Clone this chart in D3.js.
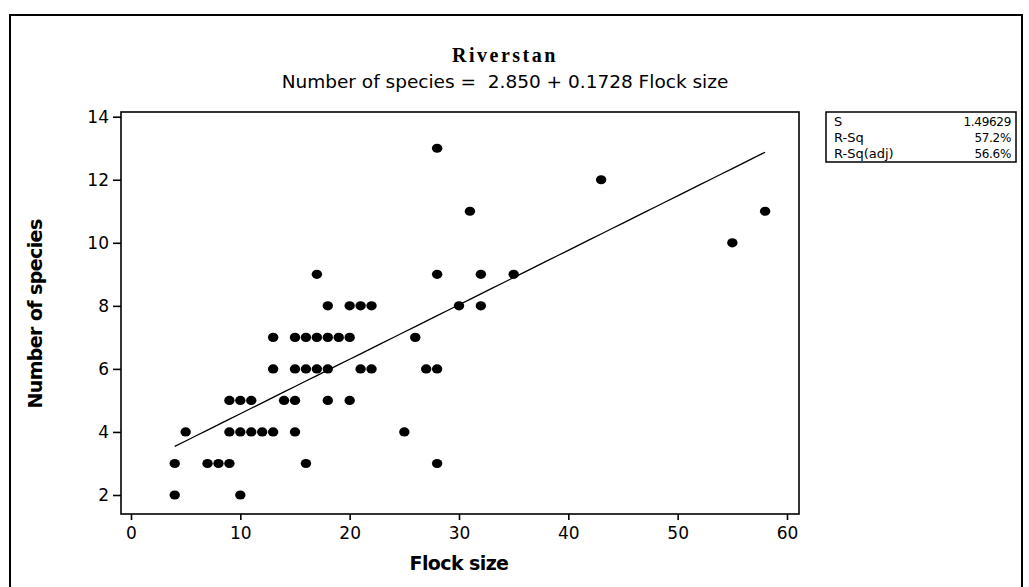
<!DOCTYPE html>
<html>
<head>
<meta charset="utf-8">
<script src="https://cdn.jsdelivr.net/npm/d3@7"></script>
<style>
  html, body { margin: 0; padding: 0; background: #fff; }
  svg { display: block; }
</style>
</head>
<body>
<svg id="chart" width="1029" height="587"></svg>
<script>
// ---- data ----
const flockSize = [4,4,5,7,8,9,10, 9,10,11,12,13,15,25, 9,10,11,14,15,18,20,
                   13,15,16,17,18,21,22,27,28, 13,15,16,17,18,19,20,26,
                   18,20,21,22,30,32, 17,28,32,35, 31,28,43,55,58, 28,16];
const numSpecies = [2,3,4,3,3,3,2, 4,4,4,4,4,4,4, 5,5,5,5,5,5,5,
                    6,6,6,6,6,6,6,6,6, 7,7,7,7,7,7,7,7,
                    8,8,8,8,8,8, 9,9,9,9, 11,13,12,10,11, 3,3];
const fitIntercept = 2.850;
const fitSlope = 0.1728;
const fitRange = [4, 58];
const xTicks = [0, 10, 20, 30, 40, 50, 60];
const yTicks = [2, 4, 6, 8, 10, 12, 14];
const statLabels = ["S", "R-Sq", "R-Sq(adj)"];
const statValues = ["1.49629", "57.2%", "56.6%"];
const titleText = "Riverstan";
const subtitleText = "Number of species =  2.850 + 0.1728 Flock size";
const xLabel = "Flock size";
const yLabel = "Number of species";

// ---- layout ----
const svg = d3.select("#chart");
const frame = {left: 121, right: 799, top: 112, bottom: 514};
const x = d3.scaleLinear().domain([0, 60]).range([131, 787]);
const y = d3.scaleLinear().domain([2, 14]).range([495, 116.7]);

// outer border
svg.append("path")
  .attr("d", "M10,600 L10,15 L1022,15 L1022,600")
  .attr("fill", "none").attr("stroke", "#000").attr("stroke-width", 2);

// data frame
svg.append("rect")
  .attr("x", frame.left).attr("y", frame.top)
  .attr("width", frame.right - frame.left).attr("height", frame.bottom - frame.top)
  .attr("fill", "none").attr("stroke", "#000").attr("stroke-width", 1.6);

// axes
const xAxis = svg.append("g")
  .attr("transform", `translate(0,${frame.bottom})`)
  .call(d3.axisBottom(x).tickValues(xTicks).tickSize(6).tickPadding(7));
const yAxis = svg.append("g")
  .attr("transform", `translate(${frame.left},0)`)
  .call(d3.axisLeft(y).tickValues(yTicks).tickSize(8).tickPadding(4));
[xAxis, yAxis].forEach(g => {
  g.select(".domain").remove();
  g.selectAll(".tick line").attr("stroke", "#000").attr("stroke-width", 1.6);
  g.selectAll(".tick text")
    .attr("fill", "#000")
    .style("font-family", "'DejaVu Sans', sans-serif")
    .style("font-size", "17px");
});

// fitted line
const fitX = d3.range(fitRange[0], fitRange[1] + 0.001, 1);
svg.append("path")
  .datum(fitX)
  .attr("fill", "none").attr("stroke", "#000").attr("stroke-width", 1.3)
  .attr("d", d3.line().x(d => x(d)).y(d => y(fitIntercept + fitSlope * d)));

// points
const pts = flockSize.map((v, i) => ({fx: v, ns: numSpecies[i]}));
svg.append("g").selectAll("ellipse").data(pts).join("ellipse")
  .attr("cx", d => x(d.fx)).attr("cy", d => y(d.ns))
  .attr("rx", 5.2).attr("ry", 4.6).attr("fill", "#000");

// titles
svg.append("text")
  .attr("x", 505).attr("y", 62).attr("text-anchor", "middle")
  .style("font-family", "'Liberation Serif', serif").style("font-weight", "bold")
  .style("font-size", "20px").style("letter-spacing", "2.5px")
  .text(titleText);
svg.append("text")
  .attr("x", 505).attr("y", 88).attr("text-anchor", "middle")
  .style("font-family", "'DejaVu Sans', sans-serif")
  .style("font-size", "18.5px").style("white-space", "pre")
  .text(subtitleText);

// axis labels
svg.append("text")
  .attr("x", 459).attr("y", 570).attr("text-anchor", "middle")
  .style("font-family", "'DejaVu Sans', sans-serif").style("font-weight", "bold")
  .style("font-size", "19px").style("letter-spacing", "-0.6px")
  .text(xLabel);
svg.append("text")
  .attr("transform", "translate(42,314) rotate(-90)").attr("text-anchor", "middle")
  .style("font-family", "'DejaVu Sans', sans-serif").style("font-weight", "bold")
  .style("font-size", "19px").style("letter-spacing", "-0.6px")
  .text(yLabel);

// stats box
const box = {x: 826, y: 112, w: 190, rowH: 16};
svg.append("rect")
  .attr("x", box.x).attr("y", box.y).attr("width", box.w)
  .attr("height", box.rowH * statLabels.length + 2)
  .attr("fill", "#fff").attr("stroke", "#000").attr("stroke-width", 1.5);
const rows = svg.append("g").selectAll("g").data(statLabels).join("g")
  .attr("transform", (d, i) => `translate(0,${box.y + 14 + i * box.rowH})`);
rows.append("text").attr("x", box.x + 8)
  .style("font-family", "'DejaVu Sans', sans-serif").style("font-size", "13px")
  .text(d => d);
rows.append("text").attr("x", box.x + box.w - 5).attr("text-anchor", "end")
  .style("font-family", "'DejaVu Sans', sans-serif").style("font-size", "12px")
  .style("letter-spacing", "-0.3px")
  .text((d, i) => statValues[i]);
</script>
</body>
</html>
